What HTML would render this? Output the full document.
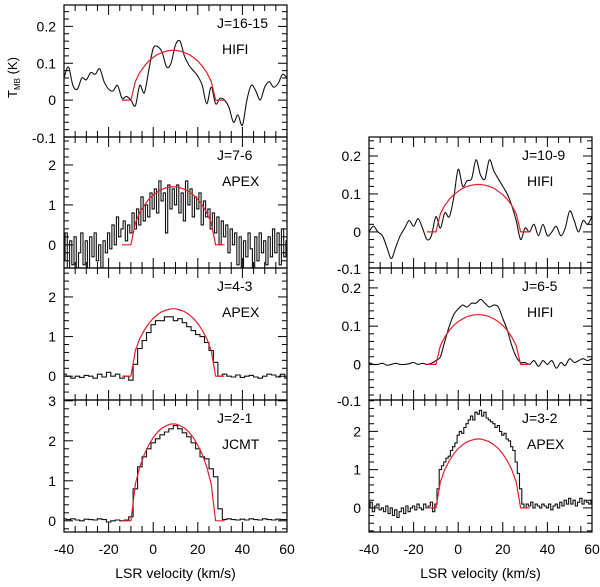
<!DOCTYPE html>
<html><head><meta charset="utf-8"><style>
html,body{margin:0;padding:0;background:#fff;}
svg text{font-family:"Liberation Sans",Arial,sans-serif;fill:#000;}
</style></head><body>
<svg id="c" width="600" height="582" viewBox="0 0 600 582" xmlns="http://www.w3.org/2000/svg"></svg>
<script>
const velocities = [];
for (let v = -40; v <= 60; v += 2) velocities.push(v);
const velFine = [];
for (let v = -40; v <= 60; v += 1) velFine.push(v);
const modelVel = [-14,-12,-10,-8,-6,-4,-2,0,2,4,6,8,10,12,14,16,18,20,22,24,26,28,30,32];
const xTicks = [-40,-20,0,20,40,60];

const obsJ16 = [0.06,0.09,0.04,0.03,0.06,0.055,0.075,0.07,0.085,0.05,0.03,0.025,0.04,0.005,0.01,0.0,-0.015,0.04,0.02,0.08,0.14,0.145,0.13,0.09,0.1,0.15,0.16,0.12,0.095,0.08,0.065,0.04,-0.01,0.035,-0.01,0.005,0.0,-0.02,-0.06,-0.04,-0.068,0.0,0.04,0.025,0.0,0.035,0.05,0.035,0.045,0.07,0.06];
const obsJ7 = [-0.4,0.3,-0.6,0.1,-0.5,0.2,-0.6,-0.2,0.3,-0.5,
  0.1,-0.6,0.2,-0.3,0.3,-0.4,0.0,-0.6,0.1,-0.2,
  0.3,-0.1,0.5,0.0,0.7,0.2,0.4,0.6,0.1,0.5,
  0.3,0.8,0.4,0.9,0.5,1.2,0.6,1.0,0.7,1.3,
  0.9,1.4,0.8,1.6,1.1,1.3,0.3,1.5,0.9,1.4,
  1.0,1.5,0.8,1.3,0.6,1.6,1.0,1.4,0.7,1.2,
  0.9,1.3,0.5,1.1,0.7,0.9,0.4,0.8,0.3,0.7,
  0.0,0.6,0.2,0.5,-0.2,0.4,0.0,0.3,-0.5,0.2,
  -0.6,0.1,-0.3,0.3,-0.1,-0.6,0.2,-0.4,0.3,-0.2,
  0.1,-0.5,0.2,-0.3,0.4,-0.2,0.3,-0.5,0.4,-0.3,0.1];
const obsJ4 = [0.05,0.0,-0.05,0.0,-0.03,0.02,0.0,-0.05,0.05,-0.02,0.1,0.0,0.05,-0.05,0.0,-0.1,0.3,0.7,0.9,1.1,1.3,1.4,1.4,1.5,1.5,1.4,1.45,1.35,1.25,1.15,1.05,1.0,0.85,0.65,0.35,0.0,0.05,0.0,-0.02,0.03,-0.03,0.0,0.02,-0.02,-0.05,0.0,0.05,0.03,-0.02,0.05,-0.05];
const obsJ2 = [0.05,0.03,0.05,0.02,0.0,0.04,0.03,0.02,0.05,0.03,-0.03,0.0,0.02,0.0,0.02,0.1,0.8,1.35,1.6,1.8,1.95,2.05,2.15,2.22,2.3,2.38,2.3,2.2,2.1,1.95,1.8,1.6,1.55,1.3,1.1,0.3,0.03,0.05,0.03,0.02,0.04,0.02,0.05,0.03,0.02,0.05,0.03,0.02,0.04,0.03,0.03];
const obsJ10 = [0.0,0.015,0.0,-0.01,-0.04,-0.07,-0.04,-0.01,0.01,0.03,0.015,0.035,0.01,-0.02,-0.01,0.04,0.01,0.05,0.04,0.09,0.165,0.12,0.135,0.14,0.19,0.15,0.14,0.19,0.16,0.14,0.12,0.1,0.07,0.03,-0.02,0.01,0.0,0.02,-0.01,0.02,-0.01,0.0,0.015,-0.01,0.01,0.055,0.03,0.0,0.03,0.02,0.04];
const obsJ6 = [0.005,0.0,0.0,0.003,-0.002,0.0,0.003,0.0,0.0,0.002,0.005,0.0,0.003,0.0,0.003,0.01,0.02,0.06,0.1,0.13,0.145,0.155,0.15,0.16,0.16,0.17,0.16,0.15,0.155,0.15,0.12,0.09,0.05,0.02,0.005,0.005,0.0,0.01,-0.005,0.01,0.0,0.01,-0.01,0.005,-0.003,0.015,0.005,0.01,0.015,0.01,0.015];
const obsJ3 = [0.0,0.15,-0.1,0.05,0.1,-0.05,0.0,-0.1,0.05,-0.15,
  0.0,-0.2,-0.05,-0.25,-0.1,0.0,-0.15,0.05,-0.1,0.0,
  0.05,-0.05,0.1,0.0,-0.05,0.1,0.0,0.05,0.15,-0.1,
  0.1,0.5,1.0,1.1,1.2,1.3,1.35,1.5,1.6,1.7,
  1.9,2.0,1.95,2.1,2.2,2.3,2.4,2.3,2.5,2.45,
  2.55,2.4,2.5,2.35,2.3,2.25,2.2,2.1,2.15,2.0,
  1.9,1.95,1.8,1.75,1.6,1.5,1.2,0.9,0.5,0.1,
  0.0,0.1,0.05,0.15,0.0,0.1,0.05,0.0,0.1,0.05,
  0.0,0.1,-0.05,0.05,0.1,0.0,0.15,0.05,0.2,0.1,
  0.25,0.1,0.2,0.05,0.15,0.25,0.1,0.2,0.15,0.1,0.2];

const modJ16 = [0,0,0,.051,.075,.092,.106,.116,.124,.129,.133,.135,.135,.133,.129,.124,.116,.106,.092,.075,.051,0,0,0];
const modJ7 = [0,0,0,.55,.81,.99,1.14,1.25,1.33,1.39,1.43,1.45,1.45,1.43,1.39,1.33,1.25,1.14,.99,.81,.55,0,0,0];
const modJ4 = [0,0,0,.65,.95,1.16,1.33,1.46,1.56,1.63,1.67,1.70,1.70,1.67,1.63,1.56,1.46,1.33,1.16,.95,.65,0,0,0];
const modJ2 = [0,0,0,.92,1.35,1.66,1.89,2.08,2.22,2.32,2.38,2.42,2.42,2.38,2.32,2.22,2.08,1.89,1.66,1.35,.92,0,0,0];
const modJ10 = [0,0,0,.048,.070,.086,.098,.107,.115,.120,.123,.125,.125,.123,.120,.115,.107,.098,.086,.070,.048,0,0,0];
const modJ6 = [0,0,0,.049,.072,.089,.102,.112,.119,.125,.128,.130,.130,.128,.125,.119,.112,.102,.089,.072,.049,0,0,0];
const modJ3 = [0,0,0,.68,1.00,1.23,1.41,1.55,1.65,1.73,1.77,1.80,1.80,1.77,1.73,1.65,1.55,1.41,1.23,1.00,.68,0,0,0];

const svg = document.getElementById('c');
const NS = 'http://www.w3.org/2000/svg';
function mk(tag, attrs, parent) {
  const e = document.createElementNS(NS, tag);
  for (const k in attrs) e.setAttribute(k, attrs[k]);
  (parent || svg).appendChild(e);
  return e;
}

const panels = [
  {name:'j16-15', x0:64, x1:287, y0:5, y1:137, ymin:-0.1, ymax:0.258, yt:[-0.1,0,0.1,0.2], ylbl:[0,0.1,0.2], minor:0.02, vel:velocities, obs:obsJ16, mod:modJ16, step:false, l1:'J=16-15', l2:'HIFI', bottomLbl:'-0.1'},
  {name:'j7-6', x0:64, x1:287, y0:137, y1:268, ymin:-0.58, ymax:2.7, yt:[0,1,2], ylbl:[0,1,2], minor:0.2, vel:velFine, obs:obsJ7, mod:modJ7, step:true, l1:'J=7-6', l2:'APEX'},
  {name:'j4-3', x0:64, x1:287, y0:268, y1:400, ymin:-0.6, ymax:2.73, yt:[0,1,2], ylbl:[0,1,2], minor:0.2, vel:velocities, obs:obsJ4, mod:modJ4, step:true, l1:'J=4-3', l2:'APEX'},
  {name:'j2-1', x0:64, x1:287, y0:400, y1:532, ymin:-0.28, ymax:3.02, yt:[0,1,2,3], ylbl:[0,1,2,3], minor:0.2, vel:velocities, obs:obsJ2, mod:modJ2, step:true, l1:'J=2-1', l2:'JCMT', xlab:true},
  {name:'j10-9', x0:369, x1:592, y0:137, y1:268, ymin:-0.095, ymax:0.25, yt:[0,0.1,0.2], ylbl:[0,0.1,0.2], minor:0.02, vel:velocities, obs:obsJ10, mod:modJ10, step:false, l1:'J=10-9', l2:'HIFI', bottomLbl:'-0.1'},
  {name:'j6-5', x0:369, x1:592, y0:268, y1:400, ymin:-0.093, ymax:0.252, yt:[0,0.1,0.2], ylbl:[0,0.1,0.2], minor:0.02, vel:velocities, obs:obsJ6, mod:modJ6, step:false, l1:'J=6-5', l2:'HIFI', bottomLbl:'-0.1'},
  {name:'j3-2', x0:369, x1:592, y0:400, y1:532, ymin:-0.63, ymax:2.82, yt:[0,1,2], ylbl:[0,1,2], minor:0.2, vel:velFine, obs:obsJ3, mod:modJ3, step:true, l1:'J=3-2', l2:'APEX', xlab:true}
];

panels.forEach(p => {
  const g = mk('g', {});
  
  
  const sx = v => p.x0 + (v + 40) / 100 * (p.x1 - p.x0);
  const sy = t => p.y1 - (t - p.ymin) / (p.ymax - p.ymin) * (p.y1 - p.y0);
  const cid = 'clip-' + p.name;
  const cp = mk('clipPath', {id: cid}, g);
  mk('rect', {x:p.x0, y:p.y0, width:p.x1-p.x0, height:p.y1-p.y0}, cp);
  let d = '';
  const hw = (p.vel[1] - p.vel[0]) / 2;
  if (p.step) {
    p.vel.forEach((v, i) => {
      const xa = sx(v - hw), xb = sx(v + hw), y = sy(p.obs[i]);
      d += (i === 0 ? 'M' : 'L') + xa.toFixed(1) + ',' + y.toFixed(1) + 'L' + xb.toFixed(1) + ',' + y.toFixed(1);
    });
  } else {
    const pts = p.vel.map((v, i) => [sx(v), sy(p.obs[i])]);
    d = 'M' + pts[0][0] + ',' + pts[0][1];
    for (let i = 0; i < pts.length - 1; i++) {
      const p0 = pts[Math.max(0, i-1)], p1 = pts[i], p2 = pts[i+1], p3 = pts[Math.min(pts.length-1, i+2)];
      const c1 = [p1[0] + (p2[0]-p0[0])/6, p1[1] + (p2[1]-p0[1])/6];
      const c2 = [p2[0] - (p3[0]-p1[0])/6, p2[1] - (p3[1]-p1[1])/6];
      d += 'C' + c1[0].toFixed(1) + ',' + c1[1].toFixed(1) + ' ' + c2[0].toFixed(1) + ',' + c2[1].toFixed(1) + ' ' + p2[0].toFixed(1) + ',' + p2[1].toFixed(1);
    }
  }
  const obs = mk('path', {d:d, fill:'none', stroke:'#111', 'stroke-width':1.1, 'clip-path':'url(#'+cid+')'}, g);
  
  
  const md = modelVel.map((v, i) => (i ? 'L' : 'M') + sx(v).toFixed(1) + ',' + sy(p.mod[i]).toFixed(1)).join('');
  const mod = mk('path', {d:md, fill:'none', stroke:'#e0202a', 'stroke-width':1.2, 'stroke-linejoin':'round', 'clip-path':'url(#'+cid+')'}, g);
  
  
  const fr = mk('rect', {x:p.x0, y:p.y0, width:p.x1-p.x0, height:p.y1-p.y0, fill:'none', stroke:'#000', 'stroke-width':1.2}, g);
  
  
  for (let v = -40; v <= 60; v += 5) {
    const len = (v % 20 === 0) ? 10 : 6;
    const x = sx(v);
    mk('line', {x1:x, y1:p.y1, x2:x, y2:p.y1-len, stroke:'#000', 'stroke-width':1}, g);
    mk('line', {x1:x, y1:p.y0, x2:x, y2:p.y0+len, stroke:'#000', 'stroke-width':1}, g);
  }
  const n0 = Math.ceil(p.ymin / p.minor - 1e-6), n1 = Math.floor(p.ymax / p.minor + 1e-6);
  const ratio = Math.round((p.yt.length > 1 ? (p.yt[1]-p.yt[0]) : 1) / p.minor);
  for (let n = n0; n <= n1; n++) {
    const y = sy(n * p.minor);
    const len = (n % ratio === 0) ? 9 : 5;
    mk('line', {x1:p.x0, y1:y, x2:p.x0+len, y2:y, stroke:'#000', 'stroke-width':1}, g);
    mk('line', {x1:p.x1, y1:y, x2:p.x1-len, y2:y, stroke:'#000', 'stroke-width':1}, g);
  }
  p.ylbl.forEach(t => {
    const tx = mk('text', {x:p.x0-8, y:sy(t)+5, 'font-size':14, 'text-anchor':'end'}, g);
    tx.textContent = String(t);
    
    
  });
  if (p.bottomLbl) {
    const tx = mk('text', {x:p.x0-8, y:p.y1+6, 'font-size':14, 'text-anchor':'end'}, g);
    tx.textContent = p.bottomLbl;
    
    
  }
  const t1 = mk('text', {x:p.x0+153, y:p.y0+23, 'font-size':14}, g);
  t1.textContent = p.l1;
  
  
  const t2 = mk('text', {x:p.x0+158, y:p.y0+49, 'font-size':14}, g);
  t2.textContent = p.l2;
  
  
  if (p.xlab) {
    xTicks.forEach(v => {
      const tx = mk('text', {x:sx(v), y:p.y1+22, 'font-size':14, 'text-anchor':'middle'}, g);
      tx.textContent = String(v);
      
      
    });
    const xl = mk('text', {x:(p.x0+p.x1)/2, y:p.y1+46, 'font-size':14, 'text-anchor':'middle'}, g);
    xl.textContent = 'LSR velocity (km/s)';
    
    
  }
});

const yl = mk('text', {transform:'translate(17,98) rotate(-90)', 'font-size':13});
yl.innerHTML = 'T<tspan font-size="8" dy="3">MB</tspan><tspan dy="-3"> (K)</tspan>';


</script>
</body></html>
